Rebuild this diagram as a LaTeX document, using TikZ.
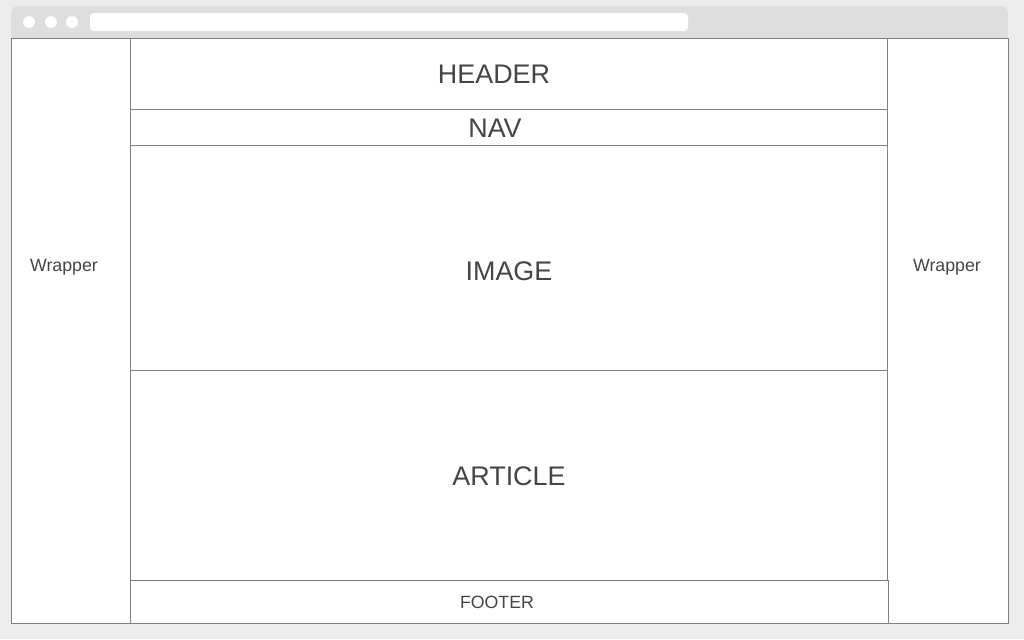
\documentclass[tikz,border=0pt]{standalone}
\usepackage{fontspec}
\setmainfont{Liberation Sans}
\usetikzlibrary{calc}
\definecolor{pagegray}{HTML}{ECECEC}
\definecolor{bargray}{HTML}{DEDEDE}
\definecolor{framegray}{HTML}{808080}
\definecolor{textgray}{HTML}{454545}
\tikzset{
	part/.style={draw=framegray, line width=0.5pt},
	biglabel/.style={text=textgray, font=\fontsize{15.3}{18}\selectfont, inner sep=0pt},
	smalllabel/.style={text=textgray, font=\fontsize{10.1}{12}\selectfont, inner sep=0pt},
}

\begin{document}
\begin{tikzpicture}[x=0.02cm, y=-0.02cm]
		%%%%% START %%%%%
		
		\fill[pagegray] (0, 0) rectangle (1024, 639);
		\useasboundingbox (0, 0) rectangle (1024, 639);
		
		% browser bar
		\fill[bargray, rounded corners=4pt] (11, 6) rectangle (1008, 42);
		\fill[white] (29, 22) circle (6);
		\fill[white] (51, 22) circle (6);
		\fill[white] (72, 22) circle (6);
		\fill[white, rounded corners=2pt] (90, 13) rectangle (688, 31);
		
		% page
		\fill[white] (11, 38) rectangle (1008, 623);
		\draw[part] (11, 38) rectangle (1008, 623);
		\draw[part] (130, 38) -- (130, 623);
		\draw[part] (887, 38) -- (887, 580);
		
		\draw[part] (130, 109) -- (887, 109);
		\draw[part] (130, 145) -- (887, 145);
		\draw[part] (130, 370) -- (887, 370);
		\draw[part] (130, 580) rectangle (888, 623);
		
		\node[biglabel] (header) at (494, 74) {HEADER};
		\node[biglabel] (nav) at (495, 128) {NAV};
		\node[biglabel] (image) at (509, 271) {IMAGE};
		\node[biglabel] (article) at (509, 476) {ARTICLE};
		\node[smalllabel] (footer) at (497, 602) {FOOTER};
		
		\node[smalllabel] (wrapleft) at (64, 267) {Wrapper};
		\node[smalllabel] (wrapright) at (947, 267) {Wrapper};
		
		%%%%% END %%%%%
	\end{tikzpicture}
\end{document}
